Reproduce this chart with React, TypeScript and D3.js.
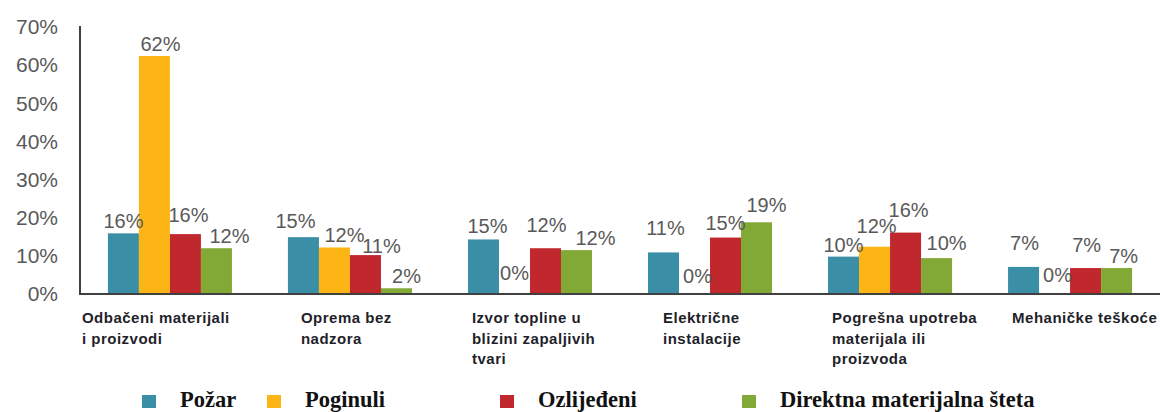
import React from "react";
import * as d3 from "d3";

const categories: string[][] = [
  ["Odbačeni materijali", "i proizvodi"],
  ["Oprema bez", "nadzora"],
  ["Izvor topline u", "blizini zapaljivih", "tvari"],
  ["Električne", "instalacije"],
  ["Pogrešna upotreba", "materijala ili", "proizvoda"],
  ["Mehaničke teškoće"],
];

const seriesNames = ["Požar", "Poginuli", "Ozlijeđeni", "Direktna materijalna šteta"];
const seriesColors = ["#3A8EA5", "#FDB515", "#C1282D", "#82A935"];

const pozar = [15.9, 14.9, 14.3, 10.9, 9.8, 7.1];
const poginuli = [62.4, 12.2, 0, 0, 12.4, 0];
const ozlijedeni = [15.7, 10.2, 12.0, 14.8, 16.1, 6.8];
const steta = [12.0, 1.5, 11.5, 18.8, 9.4, 6.8];

const pozarLabels = ["16%", "15%", "15%", "11%", "10%", "7%"];
const poginuliLabels = ["62%", "12%", "0%", "0%", "12%", "0%"];
const ozlijedeniLabels = ["16%", "11%", "12%", "15%", "16%", "7%"];
const stetaLabels = ["12%", "2%", "12%", "19%", "10%", "7%"];

const yTicks = [0, 10, 20, 30, 40, 50, 60, 70];

const W = 1160;
const H = 412;

// manual label nudges [dx, dy] per category, per series (as in the source)
const nudges: number[][][] = [
  [[0, 0], [6, 0], [3, -7], [13, 0]],
  [[-8, -4], [10, 0], [16, 3], [10, 0]],
  [[4, -1], [0, -9], [1, -11], [19, 0]],
  [[2, -12], [3, -6], [0, -3], [10, -5]],
  [[0, 0], [2, -9], [3, -11], [10, -3]],
  [[1, -12], [3, -7], [1, -11], [7, 0]],
];
const catLabelDx = [-26, 13, 4, 15, 4, 4];

export default function App() {
  const series = [pozar, poginuli, ozlijedeni, steta];
  const labels = [pozarLabels, poginuliLabels, ozlijedeniLabels, stetaLabels];
  const idx = categories.map((_, i) => String(i));

  const x0 = d3.scaleBand<string>().domain(idx).range([80, 1160]).paddingInner(0.311).paddingOuter(0.155);
  const x1 = d3.scaleBand<string>().domain(seriesNames).range([0, x0.bandwidth()]).padding(0);
  const y = d3.scaleLinear().domain([0, 70]).range([294, 27]);

  const sans = "'Liberation Sans', Arial, sans-serif";
  const serif = "'Liberation Serif', 'Times New Roman', serif";

  const legendX = [142, 267, 500, 742];

  return (
    <svg
      width={W}
      height={H}
      style={{ position: "absolute", left: 0, top: 0, display: "block", background: "#fff" }}
    >
      {/* y tick labels */}
      {yTicks.map((t) => (
        <text
          key={t}
          x={58}
          y={y(t)}
          dy="0.35em"
          textAnchor="end"
          fontFamily={sans}
          fontSize={21}
          fill="#595959"
        >
          {t}%
        </text>
      ))}

      {/* bars */}
      {categories.map((_, ci) =>
        series.map((s, si) => {
          const bx = (x0(String(ci)) as number) + (x1(seriesNames[si]) as number);
          const v = s[ci];
          if (v <= 0) return null;
          return (
            <rect
              key={`b${ci}-${si}`}
              x={bx}
              y={y(v)}
              width={x1.bandwidth()}
              height={y(0) - y(v)}
              fill={seriesColors[si]}
            />
          );
        })
      )}

      {/* value labels */}
      {categories.map((_, ci) =>
        series.map((s, si) => {
          const bx = (x0(String(ci)) as number) + (x1(seriesNames[si]) as number) + x1.bandwidth() / 2;
          const [dx, dy] = nudges[ci][si];
          return (
            <text
              key={`l${ci}-${si}`}
              x={bx + dx}
              y={y(s[ci]) - 5 + dy}
              textAnchor="middle"
              fontFamily={sans}
              fontSize={20}
              fill="#595959"
            >
              {labels[si][ci]}
            </text>
          );
        })
      )}

      {/* axes lines */}
      <line x1={80} x2={80} y1={26} y2={294} stroke="#404040" strokeWidth={2} />
      <line x1={79} x2={1160} y1={294} y2={294} stroke="#404040" strokeWidth={2} />

      {/* category labels */}
      {categories.map((lines, ci) => (
        <text
          key={`c${ci}`}
          x={(x0(String(ci)) as number) + catLabelDx[ci]}
          y={323}
          fontFamily={sans}
          fontSize={15}
          fontWeight="bold"
          fill="#1f1f2a"
          letterSpacing={0.5}
        >
          {lines.map((ln, li) => (
            <tspan key={li} x={(x0(String(ci)) as number) + catLabelDx[ci]} dy={li === 0 ? 0 : 20.5}>
              {ln}
            </tspan>
          ))}
        </text>
      ))}

      {/* legend */}
      {seriesNames.map((n, i) => (
        <g key={n}>
          <rect x={legendX[i]} y={395} width={14} height={13} fill={seriesColors[i]} />
          <text x={legendX[i] + 38} y={407} fontFamily={serif} fontWeight="bold" fontSize={22.5} fill="#111">
            {n}
          </text>
        </g>
      ))}
    </svg>
  );
}
